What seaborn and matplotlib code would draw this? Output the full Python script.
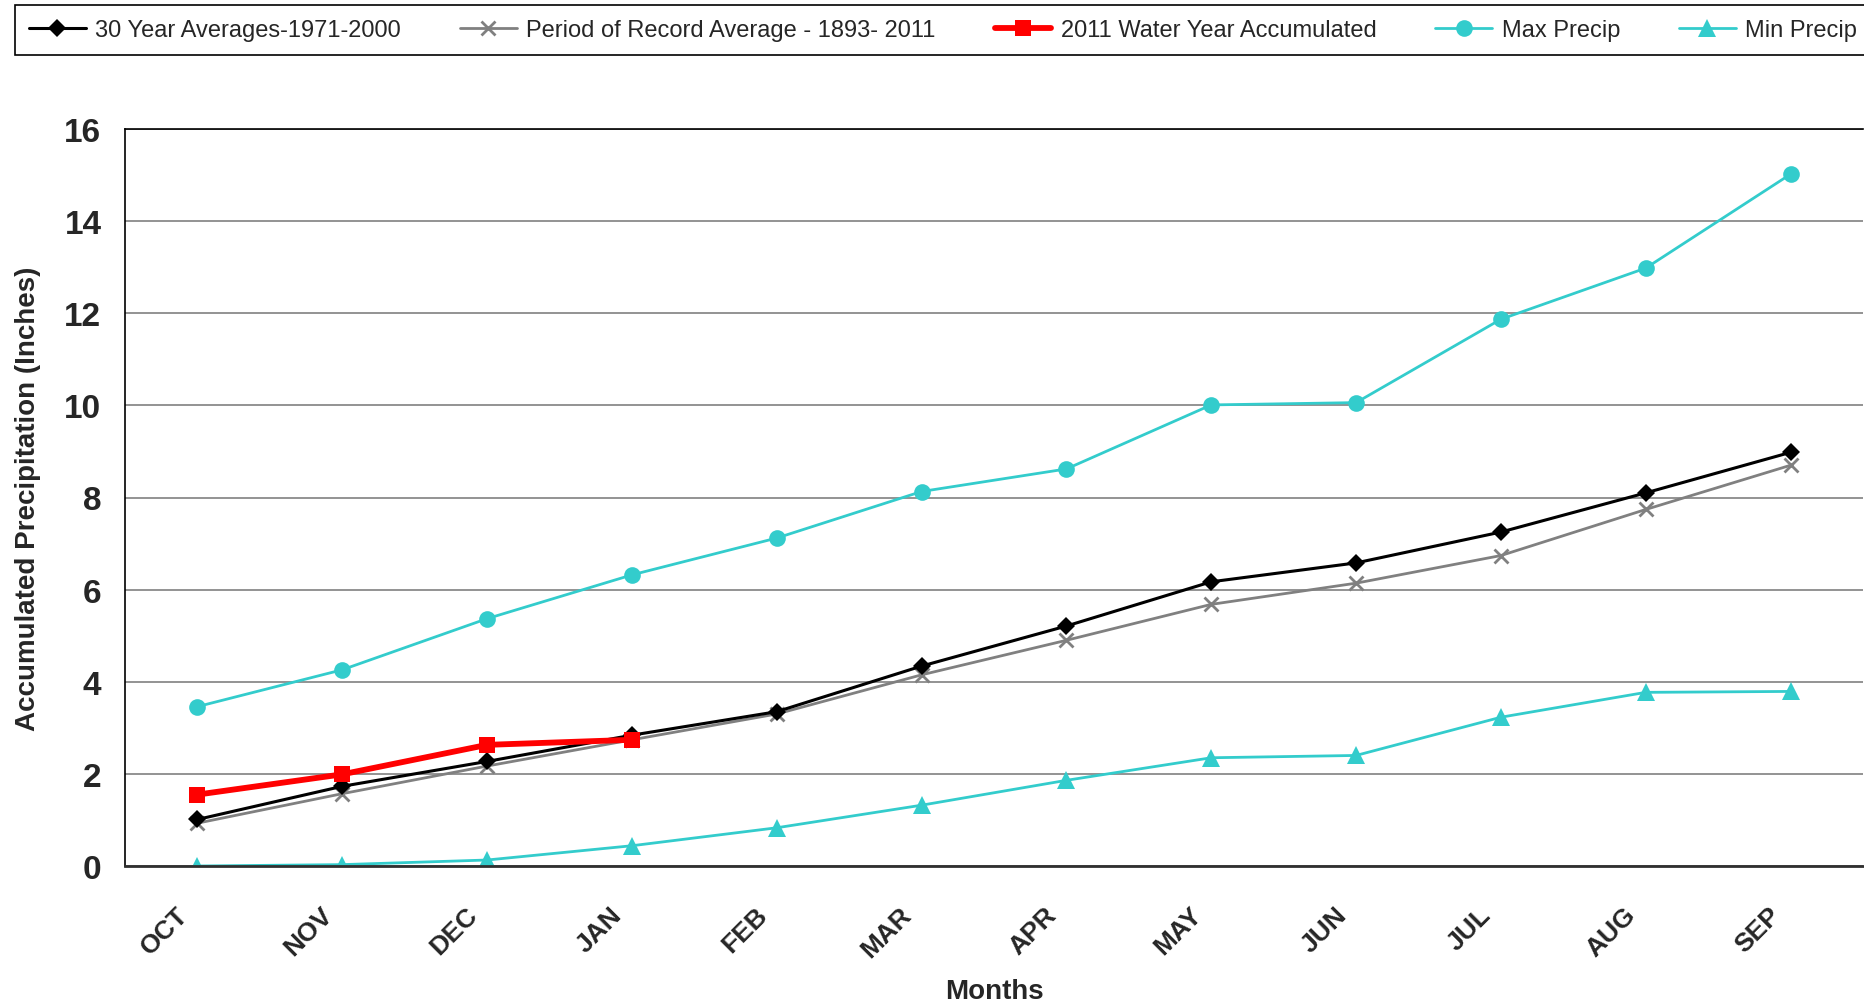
import matplotlib
matplotlib.use("Agg")
import matplotlib.pyplot as plt
import matplotlib.transforms as mtransforms
import seaborn as sns
import numpy as np

months = ['OCT', 'NOV', 'DEC', 'JAN', 'FEB', 'MAR', 'APR', 'MAY', 'JUN', 'JUL', 'AUG', 'SEP']

avg_30yr = [1.01, 1.73, 2.27, 2.84, 3.35, 4.34, 5.21, 6.17, 6.58, 7.25, 8.10, 8.98]
avg_record = [0.93, 1.57, 2.17, 2.74, 3.30, 4.15, 4.90, 5.68, 6.14, 6.74, 7.74, 8.70]
wy_2011 = [1.55, 1.99, 2.63, 2.74]
max_precip = [3.46, 4.26, 5.37, 6.32, 7.12, 8.13, 8.62, 10.01, 10.06, 11.87, 12.98, 15.02]
min_precip = [0.0, 0.03, 0.13, 0.44, 0.83, 1.32, 1.86, 2.35, 2.40, 3.23, 3.77, 3.79]

sns.set_style("white")
plt.rcParams['font.family'] = ['Liberation Sans', 'DejaVu Sans']

fig = plt.figure(figsize=(18.64, 10.03), dpi=100)
ax = fig.add_axes([125 / 1864, 1 - 867 / 1003, (1864 - 126) / 1864, (867 - 130) / 1003])

cyan = '#33CCCC'
gray = '#808080'

# all 12 months first so the category axis keeps month order
sns.lineplot(x=months, y=max_precip, ax=ax, sort=False, color=cyan, lw=2.0,
             marker='o', markersize=12, markeredgewidth=0, label='Max Precip')
sns.lineplot(x=months, y=min_precip, ax=ax, sort=False, color=cyan, lw=2.0,
             marker='^', markersize=12.5, markeredgewidth=0, label='Min Precip')
sns.lineplot(x=months, y=avg_record, ax=ax, sort=False, color=gray, lw=2.0,
             marker='x', markersize=10, markeredgewidth=2, markeredgecolor=gray,
             label='Period of Record Average - 1893- 2011')
sns.lineplot(x=months, y=avg_30yr, ax=ax, sort=False, color='black', lw=2.2,
             marker='D', markersize=9, markeredgewidth=0, label='30 Year Averages-1971-2000')
sns.lineplot(x=months[:len(wy_2011)], y=wy_2011, ax=ax, sort=False, color='#FF0000', lw=4.2,
             marker='s', markersize=12, markeredgewidth=0, label='2011 Water Year Accumulated')

ax.set_xlim(-0.5, 11.5)
ax.set_ylim(0, 16)
ax.set_yticks(np.arange(0, 17, 2))
ax.yaxis.grid(True, color=gray, lw=1.2)
ax.set_axisbelow(True)

ax.set_xticks(range(len(months)))
ax.set_xticks(np.arange(-0.5, 12, 1), minor=True)
ax.tick_params(axis='x', which='major', length=0, pad=26)
ax.tick_params(axis='x', which='minor', length=10, width=1.2, color='#404040', direction='out')
ax.tick_params(axis='y', length=11, width=1.2, color='#404040', direction='out', pad=6)
ax.set_xticklabels(months, rotation=45, ha='right', rotation_mode='anchor',
                   fontsize=19, fontweight='bold')
# nudge month labels left so they sit like the original
shift = mtransforms.ScaledTranslation(-0.22, 0.0, fig.dpi_scale_trans)
for lab in ax.get_xticklabels():
    lab.set_transform(lab.get_transform() + shift)
for lab in ax.get_yticklabels():
    lab.set_fontsize(24)
    lab.set_fontweight('bold')

for side in ['left', 'top']:
    ax.spines[side].set_color('black')
    ax.spines[side].set_linewidth(1.2)
ax.spines['bottom'].set_color('#303030')
ax.spines['bottom'].set_linewidth(2.0)
ax.spines['right'].set_visible(False)

ax.set_xlabel('Months', fontsize=20, fontweight='bold', labelpad=12)
ax.set_ylabel('Accumulated Precipitation (Inches)', fontsize=20, fontweight='bold', labelpad=17)

handles, labels = ax.get_legend_handles_labels()
ax.get_legend().remove()
order = [3, 2, 4, 0, 1]
leg = fig.legend([handles[i] for i in order], [labels[i] for i in order],
                 loc='upper left', bbox_to_anchor=(15 / 1864, 1 - 6 / 1003), ncol=5,
                 frameon=True, fancybox=False, edgecolor='black', framealpha=1,
                 fontsize=17, handlelength=2.4, handletextpad=0.4, columnspacing=2.5,
                 borderpad=0.6, borderaxespad=0)
leg.get_frame().set_linewidth(1.2)

fig.savefig('out.png', dpi=100)
